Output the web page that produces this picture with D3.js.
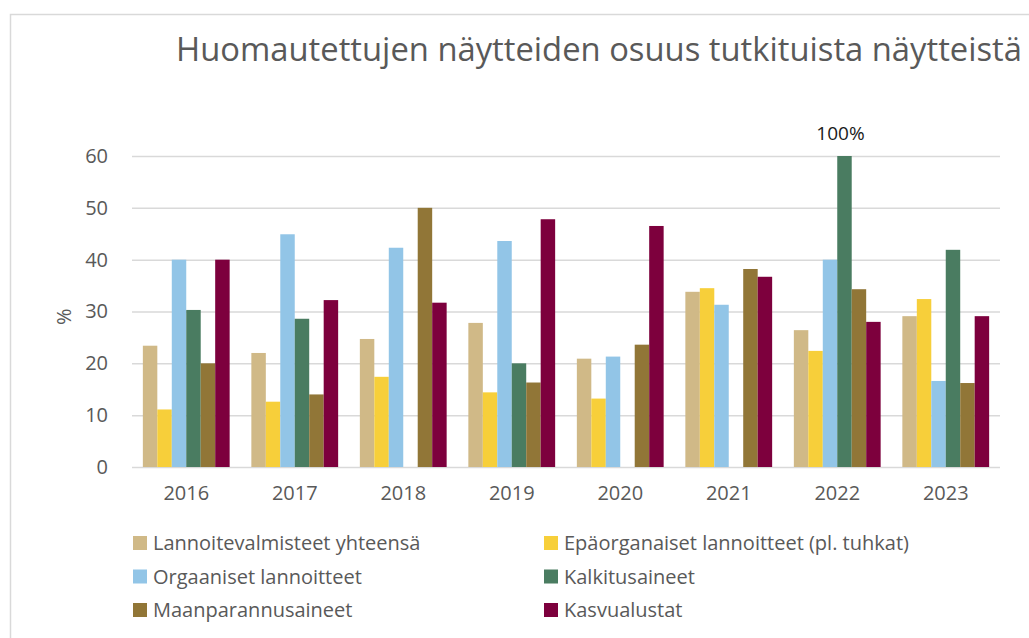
<!DOCTYPE html>
<html>
<head>
<meta charset="utf-8">
<script src="https://cdn.jsdelivr.net/npm/d3@7"></script>
<style>
  body { margin: 0; background: #fff; }
  svg { font-family: "Open Sans", sans-serif; }
</style>
</head>
<body>
<div id="chart"></div>
<script>
const years = ["2016", "2017", "2018", "2019", "2020", "2021", "2022", "2023"];
const seriesNames = [
  "Lannoitevalmisteet yhteensä",
  "Epäorganaiset lannoitteet (pl. tuhkat)",
  "Orgaaniset lannoitteet",
  "Kalkitusaineet",
  "Maanparannusaineet",
  "Kasvualustat"
];
const colors = ["#d0b987", "#f7cf3a", "#92c5e7", "#4a7c61", "#917637", "#7d003d"];

const lannoitevalmisteet = [23.4, 22.0, 24.7, 27.8, 20.9, 33.8, 26.4, 29.1];
const epaorgaaniset      = [11.1, 12.6, 17.4, 14.4, 13.2, 34.5, 22.4, 32.4];
const orgaaniset         = [40.0, 44.9, 42.3, 43.6, 21.3, 31.3, 40.0, 16.6];
const kalkitusaineet     = [30.3, 28.6, 0, 20.0, 0, 0, 100, 41.9];
const maanparannus       = [20.0, 14.0, 50.0, 16.3, 23.6, 38.2, 34.3, 16.2];
const kasvualustat       = [40.0, 32.2, 31.7, 47.8, 46.5, 36.7, 28.0, 29.1];

const yTicks = [0, 10, 20, 30, 40, 50, 60];
const yMax = 60;

const allSeries = [lannoitevalmisteet, epaorgaaniset, orgaaniset, kalkitusaineet, maanparannus, kasvualustat];

const width = 1029, height = 638;
const margin = { top: 156, right: 29, bottom: 171, left: 132 };

const svg = d3.select("#chart").append("svg")
  .attr("width", width)
  .attr("height", height);

// outer frame (only top and left edges visible)
svg.append("path")
  .attr("d", `M10.5,${height} V14.5 H${width}`)
  .attr("fill", "none")
  .attr("stroke", "#d9d9d9")
  .attr("stroke-width", 1.5);

// title
svg.append("text")
  .attr("x", 176)
  .attr("y", 61)
  .attr("textLength", 846)
  .attr("lengthAdjust", "spacingAndGlyphs")
  .attr("font-size", 32)
  .attr("font-weight", 400)
  .attr("fill", "#595959")
  .text("Huomautettujen näytteiden osuus tutkituista näytteistä");

const x = d3.scaleBand()
  .domain(years)
  .range([margin.left, width - margin.right])
  .paddingInner(0.2)
  .paddingOuter(0.1);

const xs = d3.scaleBand()
  .domain(d3.range(seriesNames.length))
  .range([0, x.bandwidth()]);

const y = d3.scaleLinear()
  .domain([0, yMax])
  .range([height - margin.bottom, margin.top]);

// gridlines + y labels
const yAxis = svg.append("g")
  .attr("transform", `translate(${margin.left},0)`)
  .call(d3.axisLeft(y).tickValues(yTicks).tickSize(-(width - margin.right - margin.left)).tickPadding(24));
yAxis.select(".domain").remove();
yAxis.selectAll(".tick line").attr("stroke", "#d9d9d9").attr("stroke-width", 1.5);
yAxis.selectAll(".tick text").attr("font-size", 20).attr("fill", "#595959").attr("font-family", "Open Sans, sans-serif");

// y title
svg.append("text")
  .attr("transform", `translate(71,${y(29)}) rotate(-90)`)
  .attr("text-anchor", "middle")
  .attr("font-size", 20)
  .attr("fill", "#595959")
  .text("%");

// bars
const groups = svg.append("g").selectAll("g")
  .data(years)
  .join("g")
  .attr("transform", d => `translate(${x(d)},0)`);

groups.selectAll("rect")
  .data((d, i) => allSeries.map((s, j) => ({ j, v: s[i] })))
  .join("rect")
  .attr("x", d => xs(d.j))
  .attr("width", xs.bandwidth())
  .attr("y", d => y(Math.min(d.v, yMax)))
  .attr("height", d => y(0) - y(Math.min(d.v, yMax)))
  .attr("fill", d => colors[d.j]);

// label for clipped bar
years.forEach((yr, i) => {
  allSeries.forEach((s, j) => {
    if (s[i] > yMax) {
      svg.append("text")
        .attr("x", x(yr) + xs(j) + xs.bandwidth() / 2 - 4)
        .attr("y", y(yMax) - 16)
        .attr("text-anchor", "middle")
        .attr("font-size", 19)
        .attr("fill", "#1a1a1a")
        .text(s[i] + "%");
    }
  });
});

// x axis labels
const xAxis = svg.append("g")
  .attr("transform", `translate(0,${height - margin.bottom})`)
  .call(d3.axisBottom(x).tickSize(0).tickPadding(19));
xAxis.select(".domain").remove();
xAxis.selectAll(".tick text").attr("font-size", 20).attr("fill", "#595959").attr("font-family", "Open Sans, sans-serif");

// legend
const legend = svg.append("g");
seriesNames.forEach((name, i) => {
  const col = i % 2, row = Math.floor(i / 2);
  const lx = col === 0 ? 133 : 544;
  const ly = 543 + row * 33.5;
  const g = legend.append("g").attr("transform", `translate(${lx},${ly})`);
  g.append("rect")
    .attr("x", 0).attr("y", -7)
    .attr("width", 14).attr("height", 14)
    .attr("fill", colors[i]);
  g.append("text")
    .attr("x", 20)
    .attr("y", 0)
    .attr("dy", "0.35em")
    .attr("font-size", 20)
    .attr("fill", "#595959")
    .text(name);
});
</script>
</body>
</html>
